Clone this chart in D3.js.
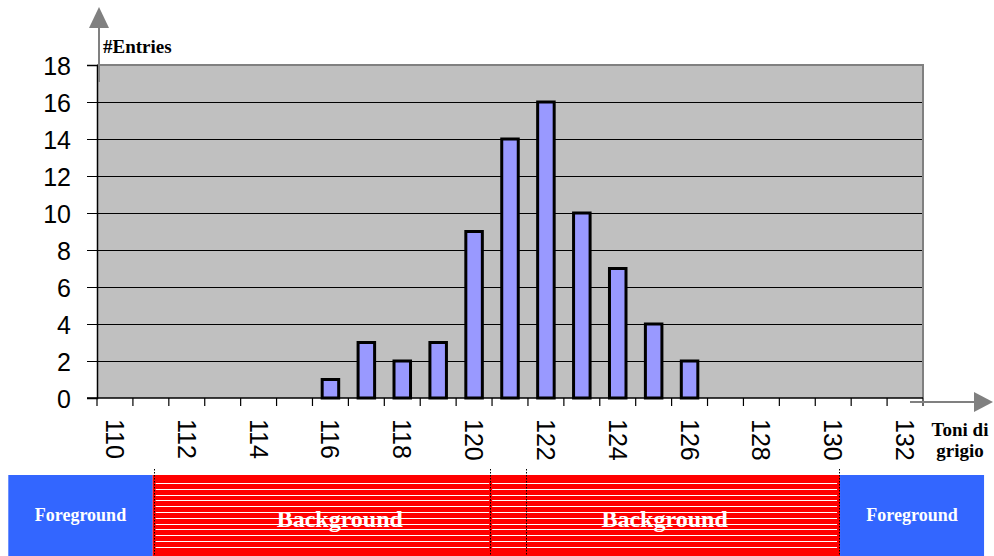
<!DOCTYPE html>
<html>
<head>
<meta charset="utf-8">
<script src="https://cdn.jsdelivr.net/npm/d3@7"></script>
<style>
  html, body { margin: 0; padding: 0; background: #ffffff; }
  svg { display: block; }
</style>
</head>
<body>
<svg id="chart" width="994" height="556"></svg>
<script>
// Grey levels (x categories) and the number of entries for each one
const greyLevels = d3.range(110, 133);
const entries = [0, 0, 0, 0, 0, 0, 1, 3, 2, 3, 9, 14, 16, 10, 7, 4, 2, 0, 0, 0, 0, 0, 0];
const xTickLabels = [110, 112, 114, 116, 118, 120, 122, 124, 126, 128, 130, 132];
const yTicks = [0, 2, 4, 6, 8, 10, 12, 14, 16, 18];

// Segmentation of the grey range (in grey-level units)
const segLabels = ["Foreground", "Background", "Background", "Foreground"];
const segFrom = [107.03, 111.05, 120.42, 130.19];
const segTo = [111.05, 121.47, 130.19, 134.2];
const segKind = ["fg", "bg", "bg", "fg"];

const svg = d3.select("#chart");
const plot = { left: 97, right: 923, top: 65, bottom: 398 };

const x = d3.scaleBand().domain(greyLevels).range([plot.left, plot.right]).paddingInner(0).paddingOuter(0);
const y = d3.scaleLinear().domain([0, 18]).range([plot.bottom, plot.top]);
const bw = x.bandwidth();
// continuous grey-level position (category centre)
const xv = d3.scaleLinear().domain([110, 132]).range([x(110) + bw / 2, x(132) + bw / 2]);

// plot background
svg.append("rect")
  .attr("x", plot.left).attr("y", plot.top)
  .attr("width", plot.right - plot.left).attr("height", plot.bottom - plot.top)
  .attr("fill", "#c0c0c0");

// horizontal grid lines
svg.append("g").selectAll("line").data(yTicks.filter(d => d > 0 && d < 18)).join("line")
  .attr("x1", plot.left).attr("x2", plot.right)
  .attr("y1", d => Math.round(y(d)) + 0.5).attr("y2", d => Math.round(y(d)) + 0.5)
  .attr("stroke", "#000").attr("stroke-width", 1);

// top and right frame
svg.append("line").attr("x1", plot.left).attr("x2", plot.right + 1)
  .attr("y1", y(18)).attr("y2", y(18)).attr("stroke", "#808080").attr("stroke-width", 2);
svg.append("line").attr("x1", plot.right).attr("x2", plot.right)
  .attr("y1", y(18)).attr("y2", plot.bottom).attr("stroke", "#808080").attr("stroke-width", 2);

// bars
svg.append("g").selectAll("rect").data(greyLevels.map((g, i) => ({ g, v: entries[i] })).filter(d => d.v > 0)).join("rect")
  .attr("x", d => x(d.g) + bw * 0.27)
  .attr("width", bw * 0.46)
  .attr("y", d => y(d.v))
  .attr("height", d => y(0) - y(d.v))
  .attr("fill", "#9999ff")
  .attr("stroke", "#000").attr("stroke-width", 3);

// y axis
const yAxis = d3.axisLeft(y).tickValues(yTicks).tickSize(10).tickPadding(16);
const gy = svg.append("g").attr("transform", `translate(${plot.left},0)`).call(yAxis);
gy.select(".domain").attr("stroke", "#000").attr("stroke-width", 1.5);
gy.selectAll(".tick line").attr("stroke", "#000");
gy.selectAll(".tick text")
  .attr("font-family", "Liberation Sans, Arial, sans-serif")
  .attr("font-size", 25).attr("fill", "#000").attr("dy", "0.36em");

// x axis: ticks on category boundaries, labels on every other category
const gx = svg.append("g").attr("transform", `translate(0,${plot.bottom})`);
gx.append("line").attr("x1", plot.left - 10).attr("x2", plot.right)
  .attr("y1", 0).attr("y2", 0).attr("stroke", "#000").attr("stroke-width", 1.5);
gx.selectAll("line.tk").data(greyLevels.concat([133])).join("line").attr("class", "tk")
  .attr("x1", d => d === 133 ? plot.right : x(d)).attr("x2", d => d === 133 ? plot.right : x(d))
  .attr("y1", 0).attr("y2", 8).attr("stroke", "#000").attr("stroke-width", 1.2);
gx.selectAll("text").data(xTickLabels).join("text")
  .attr("transform", d => `translate(${x(d) + bw / 2},21) rotate(90)`)
  .attr("dy", "0.36em")
  .attr("font-family", "Liberation Sans, Arial, sans-serif")
  .attr("font-size", 25).attr("fill", "#000")
  .text(d => d);

// axis arrows
const arrowGrey = "#808080";
svg.append("line").attr("x1", 99).attr("x2", 99).attr("y1", 26).attr("y2", 82)
  .attr("stroke", arrowGrey).attr("stroke-width", 2);
svg.append("path").attr("d", "M99,7 L109,28 L89,28 Z").attr("fill", arrowGrey);
svg.append("line").attr("x1", 910).attr("x2", 977).attr("y1", 402).attr("y2", 402)
  .attr("stroke", arrowGrey).attr("stroke-width", 2);
svg.append("path").attr("d", "M993,402 L974,392 L974,412 Z").attr("fill", arrowGrey);

// axis titles
const serif = "Liberation Serif, Times New Roman, serif";
svg.append("text").attr("x", 103).attr("y", 53).attr("font-family", serif)
  .attr("font-weight", "bold").attr("font-size", 19).attr("fill", "#000").text("#Entries");
const xt = svg.append("text").attr("font-family", serif).attr("font-weight", "bold")
  .attr("font-size", 19).attr("fill", "#000").attr("text-anchor", "middle");
xt.append("tspan").attr("x", 960).attr("y", 436).text("Toni di");
xt.append("tspan").attr("x", 960).attr("y", 457).text("grigio");

// segmentation strip
const stripTop = 475, stripBottom = 556;
const seg = svg.append("g");
const edges = seg.append("g");
segLabels.forEach((lab, i) => {
  const x0 = xv(segFrom[i]), x1 = xv(segTo[i]);
  const g = seg.insert("g", () => edges.node());
  if (segKind[i] === "fg") {
    g.append("rect").attr("x", x0).attr("y", stripTop).attr("width", x1 - x0)
      .attr("height", stripBottom - stripTop).attr("fill", "#3366ff");
    g.append("text").attr("x", (x0 + x1) / 2).attr("y", 521).attr("text-anchor", "middle")
      .attr("font-family", serif).attr("font-weight", "bold").attr("font-size", 18)
      .attr("fill", "#ffffff").text(lab);
  } else {
    g.append("rect").attr("x", x0).attr("y", stripTop).attr("width", x1 - x0)
      .attr("height", stripBottom - stripTop).attr("fill", "#ff0000");
    g.selectAll("line.h").data(d3.range(12)).join("line").attr("class", "h")
      .attr("x1", x0 + 3).attr("x2", x1 - 3)
      .attr("y1", d => Math.round(483 + d * 5.8) + 0.5).attr("y2", d => Math.round(483 + d * 5.8) + 0.5)
      .attr("stroke", "#ffffff").attr("stroke-width", 1.2);
    g.append("text").attr("x", (x0 + x1) / 2).attr("y", 527).attr("text-anchor", "middle")
      .attr("font-family", serif).attr("font-weight", "bold").attr("font-size", 24)
      .attr("fill", "#ffffff").text(lab);
    // dotted box edges, kept above every box
    [x0 + 1, x1 - 1].forEach(xx => {
      edges.append("line").attr("x1", Math.round(xx) + 0.5).attr("x2", Math.round(xx) + 0.5)
        .attr("y1", 469).attr("y2", stripBottom)
        .attr("stroke", "#000").attr("stroke-width", 1).attr("stroke-dasharray", "1.5,1.5");
    });
  }
});
</script>
</body>
</html>
